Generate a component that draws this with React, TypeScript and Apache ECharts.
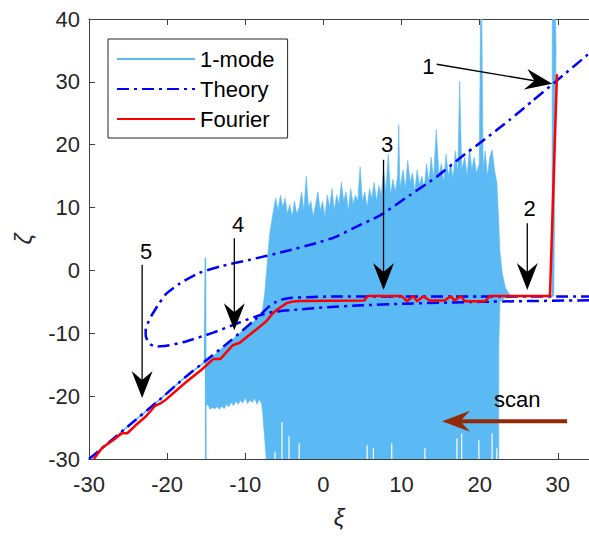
import React, { useEffect, useRef } from 'react';
import * as echarts from 'echarts';

// ---------- data ----------
const xRange = [-30, 34];
const yRange = [-30, 40];

// 1-mode: thin parts of the signal
const modeDiagonal: number[][] = [
  [-30, -30], [-25, -24.8], [-21, -20.6], [-17.7, -17.0], [-15.2, -14.6], [-15.1, 2.0], [-15.05, -30],
];
const modeTail: number[][] = [[23.5, -4.1], [29.25, -4.1]];

// 1-mode: envelope of the dense oscillating band (upper edge left→right)
const bandUpper: number[][] = [
  [-15.05, -14.6], [-14, -13.5], [-13, -12.4], [-12, -11.3], [-11, -10.3], [-10, -9.2], [-9, -8.2],
  [-8.2, -7.4], [-7.8, -6.5], [-7.5, -3.5], [-7.2, 1], [-6.9, 5.5], [-6.6, 8], [-6.4, 9.5],
  [-6.1, 11.5], [-5.8, 9.5], [-5.5, 12], [-5.2, 10], [-4.9, 11.5], [-4.6, 9], [-4.3, 10.5], [-4.0, 8.5],
  [-3.7, 11], [-3.4, 9], [-3.1, 10], [-2.8, 12.5], [-2.5, 9.5], [-2.2, 15], [-1.9, 10], [-1.6, 11],
  [-1.3, 8.5], [-1.0, 10.5], [-0.7, 12.5], [-0.4, 9.5], [-0.1, 11], [0.2, 8.5], [0.5, 12], [0.8, 10],
  [1.1, 13], [1.4, 9.5], [1.7, 12], [2.0, 10.5], [2.3, 14], [2.6, 11], [2.9, 12.5], [3.2, 9.5],
  [3.5, 13], [3.8, 10.5], [4.1, 12], [4.4, 11], [4.7, 16.5], [5.0, 11], [5.3, 12.5], [5.6, 10],
  [5.9, 13], [6.2, 11.5], [6.5, 14], [6.8, 11], [7.1, 13.5], [7.4, 12], [7.7, 16], [8.0, 12.5],
  [8.3, 18.5], [8.6, 12], [8.9, 14.5], [9.2, 12.5], [9.5, 15], [9.65, 23.2], [9.8, 13], [10.2, 16],
  [10.5, 13], [10.8, 17.5], [11.1, 14], [11.4, 15.5], [11.7, 12.5], [12.0, 16], [12.3, 13.5], [12.6, 15],
  [12.9, 13], [13.2, 17], [13.5, 14], [13.8, 18], [14.1, 14.5], [14.45, 22.4], [14.8, 15], [15.1, 17],
  [15.4, 14], [15.7, 18.5], [16.0, 15], [16.3, 17], [16.6, 14.5], [16.9, 19], [17.2, 15.5], [17.45, 30.1],
  [17.7, 16], [18.1, 18], [18.4, 15], [18.7, 19.5], [19.0, 16], [19.3, 18], [19.6, 15.5], [19.95, 17],
  [20.12, 40], [20.28, 40], [20.45, 16], [20.7, 19], [21.0, 15], [21.3, 18], [21.6, 19.2], [21.9, 16],
  [22.2, 14], [22.4, 9], [22.6, 3], [22.9, -0.5], [23.3, -2.8], [23.8, -3.8], [24.3, -4.1],
];
// lower edge right→left
const bandLower: number[][] = [
  [24.3, -4.3], [23.2, -4.4], [22.6, -5], [22.45, -12], [22.45, -30], [-7.3, -30], [-7.5, -27],
  [-7.75, -23], [-7.9, -21.2], [-8.2, -20.5], [-8.5, -21.3], [-8.8, -20.3], [-9.1, -21.0], [-9.4, -20.6],
  [-9.7, -21.2], [-10.0, -20.2], [-10.3, -21.1], [-10.6, -20.7], [-10.9, -21.3], [-11.2, -20.8],
  [-11.5, -21.5], [-11.8, -21.0], [-12.1, -21.7], [-12.4, -21.3], [-12.7, -22.0], [-13.0, -21.6],
  [-13.3, -22.1], [-13.6, -21.7], [-13.9, -22.0], [-14.2, -21.8], [-14.5, -22.1], [-14.8, -21.3], [-15.0, -21.6],
];
// jump spike of 1-mode near ξ≈29.5
const jumpSpike: number[][] = [
  [29.25, -4.1], [29.3, 40], [29.72, 40], [29.78, 35], [29.7, 26], [29.5, -4.1],
];
// white gaps at the bottom of the band (ξ, top ζ)
const gapX = [-6.2, -5.3, -4.4, -3.1, 5.6, 6.4, 8.75, 13.0, 17.1, 17.7, 19.9, 21.6, 22.2];
const gapTop = [-28.8, -24.1, -26.4, -27.5, -27.8, -28.3, -27.5, -28.3, -26.7, -25.9, -27.0, -25.9, -28.3];

// Theory
const theoryStable: number[][] = [
  [-30, -30], [-25, -24.8], [-21, -20.6], [-17.7, -17.0], [-15, -14.3], [-12, -11.3], [-9, -8.1],
  [-8, -7.0], [-7, -5.8], [-6, -4.95], [-5, -4.55], [-4, -4.35], [-2, -4.25], [1, -4.15], [10, -4.15],
  [20, -4.15], [34, -4.15],
];
const theoryLoop: number[][] = [
  [34, -4.75], [25, -4.9], [20, -5.0], [10, -5.3], [5, -5.55], [0.5, -5.85], [-3, -6.2], [-6.4, -6.6],
  [-8.6, -7.3], [-11.6, -8.7], [-14.1, -9.9], [-17.6, -11.3], [-20.1, -12.0], [-21.4, -12.1],
  [-22.2, -11.7], [-22.7, -10.6], [-22.75, -9.5], [-22.5, -8.5], [-22.0, -7.2], [-21, -5.2],
  [-20.1, -3.7], [-18.4, -2.1], [-15.9, -0.4], [-13, 0.7], [-9.4, 1.7], [-5, 3.0], [-0.9, 4.35],
  [1.5, 5.3], [3.8, 6.7], [7.3, 8.8], [11.1, 12.0], [14.5, 14.9], [17.5, 17.9], [20.7, 20.9],
  [23.9, 24.0], [26.7, 26.9], [29.5, 29.8], [34, 34.5],
];

// Fourier
const fourier: number[][] = [
  [-29.4, -30], [-28.3, -28.2], [-26.8, -26.9], [-25.8, -25.9], [-25.1, -25.9], [-24, -24.6],
  [-22.7, -23.2], [-22, -22.2], [-21.6, -21.6], [-20.8, -21.1], [-20.2, -20.6], [-17.6, -17.8],
  [-15.6, -15.8], [-14.1, -14.1], [-13.2, -14.1], [-11.6, -11.9], [-10.7, -11.5], [-9, -9.8],
  [-7.3, -8.1], [-6.6, -7.0], [-6, -6.3], [-4.7, -5.2], [-3.9, -4.95], [-3, -4.85], [5.2, -4.8],
  [5.7, -4.05], [10, -4.05], [10.7, -4.9], [11.5, -4.05], [12.0, -4.9], [12.8, -4.1], [13.6, -4.8],
  [15.5, -4.8], [16.3, -4.1], [16.8, -4.8], [17.6, -4.05], [18.1, -4.9], [20.7, -4.9], [21.3, -4.05],
  [29.0, -4.05], [29.9, 31.2],
];

// annotations (data coordinates)
const labels = [
  { text: '1', at: [13.45, 32.5] },
  { text: '2', at: [26.4, 9.9] },
  { text: '3', at: [8.15, 20.0] },
  { text: '4', at: [-10.9, 7.3] },
  { text: '5', at: [-22.7, 3.0] },
  { text: 'scan', at: [24.8, -20.6] },
];
const arrows = [
  { from: [14.5, 32.8], to: [29.3, 29.7] },
  { from: [26.1, 7.5], to: [26.1, -3.1] },
  { from: [7.7, 17.6], to: [7.7, -3.1] },
  { from: [-11.4, 5.1], to: [-11.4, -9.5] },
  { from: [-23.2, 0.9], to: [-23.2, -20.3] },
];
const scanArrow = { from: [31.2, -24], to: [15.2, -24] };

// ---------- styling ----------
const FONT = '"Liberation Sans", Arial, Helvetica, sans-serif';
const AX = '#404040';
const MODE = '#5BB9F4';
const THEORY = '#0000FF';
const FOURIER = '#FF0000';
const SCAN = '#922B05';

function headPoints(from: number[], tip: number[], len: number, half: number, notch: number) {
  const dx = tip[0] - from[0];
  const dy = tip[1] - from[1];
  const L = Math.hypot(dx, dy) || 1;
  const ux = dx / L, uy = dy / L;
  const nx = -uy, ny = ux;
  return {
    points: [
      [tip[0], tip[1]],
      [tip[0] - len * ux + half * nx, tip[1] - len * uy + half * ny],
      [tip[0] - notch * ux, tip[1] - notch * uy],
      [tip[0] - len * ux - half * nx, tip[1] - len * uy - half * ny],
    ],
    base: [tip[0] - notch * ux, tip[1] - notch * uy],
  };
}

export default function App() {
  const ref = useRef<HTMLDivElement>(null);

  useEffect(() => {
    document.body.style.margin = '0';
    const chart = echarts.init(ref.current!, undefined, { renderer: 'svg' });
    const polys = [[...bandUpper, ...bandLower], jumpSpike];

    const xCommon = {
      type: 'value' as const,
      min: xRange[0],
      max: xRange[1],
      interval: 10,
      splitLine: { show: false },
      axisLine: { show: true, onZero: false, lineStyle: { color: AX, width: 1 } },
      axisTick: { show: true, inside: true, length: 6, lineStyle: { color: AX } },
    };

    chart.setOption({
      animation: false,
      backgroundColor: '#ffffff',
      grid: { left: 89, top: 19, right: 0, bottom: 77, containLabel: false },
      legend: {
        data: ['1-mode', 'Theory', 'Fourier'],
        orient: 'vertical',
        left: 108,
        top: 39,
        itemWidth: 78,
        itemHeight: 14,
        itemGap: 4,
        padding: [7, 13, 6, 8],
        borderColor: '#262626',
        borderWidth: 1,
        borderRadius: 0,
        backgroundColor: '#ffffff',
        selectedMode: false,
        itemStyle: { opacity: 0 },
        textStyle: { fontSize: 22, fontFamily: FONT, color: '#000', lineHeight: 26 },
      },
      xAxis: [
        {
          ...xCommon,
          position: 'bottom',
          axisLabel: {
            fontSize: 22, fontFamily: FONT, color: '#262626', margin: 14,
            showMaxLabel: false,
            formatter: (v: number) => (v % 10 === 0 ? String(v) : ''),
          },
          name: 'ξ',
          nameLocation: 'middle',
          nameGap: 46,
          nameTextStyle: { fontSize: 24, fontStyle: 'italic', fontFamily: FONT, color: '#262626' },
        },
        { ...xCommon, position: 'top', axisLabel: { show: false } },
      ],
      yAxis: {
        type: 'value',
        min: yRange[0],
        max: yRange[1],
        interval: 10,
        splitLine: { show: false },
        axisLine: { show: true, onZero: false, lineStyle: { color: AX, width: 1 } },
        axisTick: { show: true, inside: true, length: 6, lineStyle: { color: AX } },
        axisLabel: { fontSize: 22, fontFamily: FONT, color: '#262626', margin: 9 },
        name: 'ζ',
        nameLocation: 'middle',
        nameRotate: 90,
        nameGap: 54,
        nameTextStyle: { fontSize: 24, fontStyle: 'italic', fontFamily: FONT, color: '#262626' },
      },
      series: [
        {
          type: 'line', name: '1-mode', data: modeDiagonal, symbol: 'none', z: 2,
          lineStyle: { color: MODE, width: 1.5 }, itemStyle: { color: MODE },
        },
        {
          type: 'line', name: '1-mode', data: modeTail, symbol: 'none', z: 2,
          lineStyle: { color: MODE, width: 1.5 }, itemStyle: { color: MODE },
        },
        {
          type: 'custom', name: '1-mode', coordinateSystem: 'cartesian2d', z: 1, clip: true,
          silent: true,
          data: polys.map((p) => p[0]),
          renderItem: (params: any, api: any) => ({
            type: 'polygon',
            shape: { points: polys[params.dataIndex].map((p) => api.coord(p)) },
            style: { fill: MODE, stroke: MODE, lineWidth: 0.6 },
          }),
        },
        {
          type: 'custom', coordinateSystem: 'cartesian2d', z: 1, clip: true, silent: true,
          data: gapX.map((x, i) => [x, gapTop[i]]),
          renderItem: (params: any, api: any) => {
            const a = api.coord([api.value(0), yRange[0]]);
            const b = api.coord([api.value(0), api.value(1)]);
            return {
              type: 'line',
              shape: { x1: a[0], y1: a[1], x2: b[0], y2: b[1] },
              style: { stroke: '#ffffff', lineWidth: 1.2 },
            };
          },
        },
        {
          type: 'line', name: 'Theory', data: theoryStable, symbol: 'none', z: 3, smooth: 0.2,
          lineStyle: { color: THEORY, width: 2.5, type: [12, 5, 3, 5] }, itemStyle: { color: THEORY },
        },
        {
          type: 'line', name: 'Theory', data: theoryLoop, symbol: 'none', z: 3, smooth: 0.2,
          lineStyle: { color: THEORY, width: 2.5, type: [12, 5, 3, 5] }, itemStyle: { color: THEORY },
        },
        {
          type: 'line', name: 'Fourier', data: fourier, symbol: 'none', z: 4,
          lineStyle: { color: FOURIER, width: 2.5 }, itemStyle: { color: FOURIER },
        },
      ],
    });

    const px = (p: number[]) =>
      chart.convertToPixel({ xAxisIndex: 0, yAxisIndex: 0 }, p) as number[];

    const graphics: any[] = [];
    labels.forEach((l) => {
      const p = px(l.at);
      graphics.push({
        type: 'text', x: p[0], y: p[1], z: 100,
        style: {
          text: l.text, fontSize: 22, fontFamily: FONT, fill: '#000',
          align: 'center', verticalAlign: 'middle',
        },
      });
    });
    arrows.forEach((a) => {
      const s = px(a.from);
      const t = px(a.to);
      const h = headPoints(s, t, 27, 10.5, 18);
      graphics.push({
        type: 'line', z: 100,
        shape: { x1: s[0], y1: s[1], x2: h.base[0], y2: h.base[1] },
        style: { stroke: '#000', lineWidth: 1.3 },
      });
      graphics.push({ type: 'polygon', z: 100, shape: { points: h.points }, style: { fill: '#000' } });
    });
    {
      const s = px(scanArrow.from);
      const t = px(scanArrow.to);
      const h = headPoints(s, t, 28, 10.5, 18);
      graphics.push({
        type: 'line', z: 100,
        shape: { x1: s[0], y1: s[1], x2: h.base[0], y2: h.base[1] },
        style: { stroke: SCAN, lineWidth: 4 },
      });
      graphics.push({ type: 'polygon', z: 100, shape: { points: h.points }, style: { fill: SCAN } });
    }
    chart.setOption({ graphic: graphics });

    return () => chart.dispose();
  }, []);

  return <div ref={ref} style={{ width: 589, height: 536 }} />;
}
